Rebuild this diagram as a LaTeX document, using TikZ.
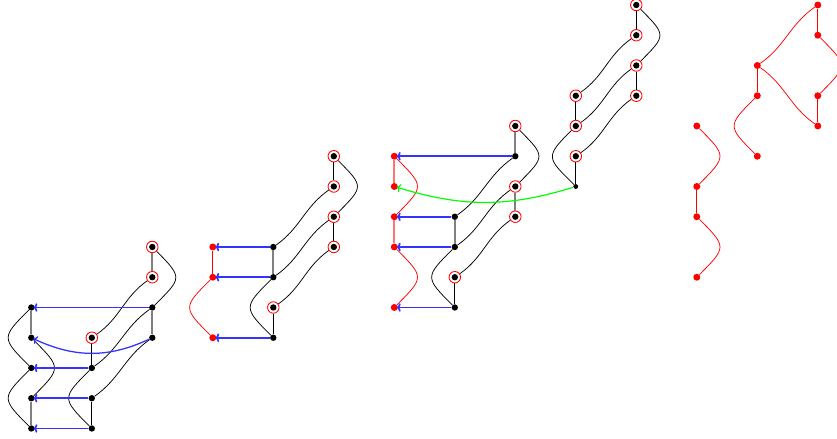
\documentclass[tikz,border=0pt]{standalone}
\usetikzlibrary{arrows.meta}
\tikzset{
	dot/.style={circle, fill=black, inner sep=0pt, minimum size=2.1mm},
	rdot/.style={dot, fill=red, minimum size=2.3mm},
	ring/.style={circle, draw=red, line width=0.8pt, inner sep=0pt, minimum size=3.8mm,
		path picture={\fill[black] (path picture bounding box.center) circle (1.05mm);}},
	strand/.style={line width=0.7pt},
	rstrand/.style={red, line width=0.7pt},
	rung/.style={gray, line width=1.6pt},
	rrung/.style={red!55, line width=1.6pt},
	arr/.style={blue!80!white, line width=1.6pt, shorten >=-1pt, -{To[length=3.5pt,width=8pt]}},
	garr/.style={arr, green},
	bulgel/.style={out=-135, in=135, looseness=1.8},
	bulger/.style={out=-45, in=45, looseness=1.8},
	diagup/.style={out=35, in=215},
	diagdn/.style={out=-35, in=145}
}

\begin{document}
\begin{tikzpicture}
			%%%%% START %%%%%
			\useasboundingbox (-1.035, -0.315) rectangle (26.635, 14.165);
			
			%%%%% first %%%%%
			\node[dot] (a1) at (0, 4) {};
			\node[dot] (a2) at (0, 3) {};
			\node[dot] (a3) at (0, 2) {};
			\node[dot] (a4) at (0, 1) {};
			\node[dot] (a5) at (0, 0) {};
			\node[ring] (b2) at (2, 3) {};
			\node[dot] (b3) at (2, 2) {};
			\node[dot] (b4) at (2, 1) {};
			\node[dot] (b5) at (2, 0) {};
			\node[ring] (c0) at (4, 6) {};
			\node[ring] (c1) at (4, 5) {};
			\node[dot] (c2) at (4, 4) {};
			\node[dot] (c3) at (4, 3) {};
			
			\draw[rung] (a1) -- (a2);
			\draw[rung] (a4) -- (a5);
			\draw[rung] (c0) -- (c1);
			\draw[rung] (c2) -- (c3);
			\draw[strand] (b2) -- (b3);
			\draw[strand] (b4) -- (b5);
			\draw[strand] (a1) to[bulgel] (a3);
			\draw[strand] (a2) to[bulger] (a4);
			\draw[strand] (a3) to[bulgel] (a5);
			\draw[strand] (b3) to[bulgel] (b5);
			\draw[strand] (c0) to[bulger] (c2);
			\draw[strand] (b2) to[diagup] (c1);
			\draw[strand] (b3) to[diagup] (c2);
			\draw[strand] (b4) to[diagup] (c3);
			
			\draw[arr] (c2) -- (a1);
			\draw[arr, line width=1.2pt] (c3) to[bend left=25] (a2);
			\draw[arr] (b3) -- (a3);
			\draw[arr] (b4) -- (a4);
			\draw[arr] (b5) -- (a5);
			
			%%%%% second %%%%%
			\node[rdot] (d1) at (6, 6) {};
			\node[rdot] (d2) at (6, 5) {};
			\node[rdot] (d4) at (6, 3) {};
			\node[dot] (e1) at (8, 6) {};
			\node[dot] (e2) at (8, 5) {};
			\node[ring] (e3) at (8, 4) {};
			\node[dot] (e4) at (8, 3) {};
			\node[ring] (f1) at (10, 9) {};
			\node[ring] (f2) at (10, 8) {};
			\node[ring] (f3) at (10, 7) {};
			\node[ring] (f4) at (10, 6) {};
			
			\draw[rstrand, line width=1.2pt] (d1) -- (d2);
			\draw[rstrand] (d2) to[bulgel] (d4);
			\draw[rung] (e1) -- (e2);
			\draw[strand] (e3) -- (e4);
			\draw[strand] (e2) to[bulgel] (e4);
			\draw[strand] (f1) -- (f2);
			\draw[strand] (f3) -- (f4);
			\draw[strand] (f1) to[bulger] (f3);
			\draw[strand] (e1) to[diagup] (f2);
			\draw[strand] (e2) to[diagup] (f3);
			\draw[strand] (e3) to[diagup] (f4);
			
			\draw[arr] (e1) -- (d1);
			\draw[arr] (e2) -- (d2);
			\draw[arr] (e4) -- (d4);
			
			%%%%% third %%%%%
			\node[rdot] (g1) at (12, 9) {};
			\node[rdot] (g2) at (12, 8) {};
			\node[rdot] (g3) at (12, 7) {};
			\node[rdot] (g4) at (12, 6) {};
			\node[rdot] (g6) at (12, 4) {};
			\node[dot] (h1) at (14, 7) {};
			\node[dot] (h2) at (14, 6) {};
			\node[ring] (h3) at (14, 5) {};
			\node[dot] (h4) at (14, 4) {};
			\node[ring] (i1) at (16, 10) {};
			\node[dot] (i2) at (16, 9) {};
			\node[ring] (i3) at (16, 8) {};
			\node[ring] (i4) at (16, 7) {};
			
			\draw[rrung] (g1) -- (g2);
			\draw[rrung] (g3) -- (g4);
			\draw[rstrand] (g1) to[bulger] (g3);
			\draw[rstrand] (g4) to[bulger] (g6);
			\draw[rung] (h1) -- (h2);
			\draw[strand] (h3) -- (h4);
			\draw[strand] (h2) to[bulgel] (h4);
			\draw[rung] (i1) -- (i2);
			\draw[rung] (i3) -- (i4);
			\draw[strand] (i1) to[bulger] (i3);
			\draw[strand] (h1) to[diagup] (i2);
			\draw[strand] (h2) to[diagup] (i3);
			\draw[strand] (h3) to[diagup] (i4);
			
			\draw[arr] (i2) -- (g1);
			\draw[arr] (h1) -- (g3);
			\draw[arr] (h2) -- (g4);
			\draw[arr] (h4) -- (g6);
			
			%%%%% fourth %%%%%
			\node[ring] (j1) at (18, 11) {};
			\node[ring] (j2) at (18, 10) {};
			\node[ring] (j3) at (18, 9) {};
			\node[dot, minimum size=1.6mm] (j4) at (18, 8) {};
			\node[ring] (k1) at (20, 14) {};
			\node[ring] (k2) at (20, 13) {};
			\node[ring] (k3) at (20, 12) {};
			\node[ring] (k4) at (20, 11) {};
			
			\draw[strand] (j1) -- (j2);
			\draw[strand] (j3) -- (j4);
			\draw[strand] (j2) to[bulgel] (j4);
			\draw[strand] (k1) -- (k2);
			\draw[strand] (k3) -- (k4);
			\draw[strand] (k1) to[bulger] (k3);
			\draw[strand] (j1) to[diagup] (k2);
			\draw[strand] (j2) to[diagup] (k3);
			\draw[strand] (j3) to[diagup] (k4);
			
			\draw[garr, line width=1.1pt] (j4) to[bend left=17] (g2);
			
			%%%%% fifth %%%%%
			\node[rdot] (l1) at (22, 10) {};
			\node[rdot] (l2) at (22, 8) {};
			\node[rdot] (l3) at (22, 7) {};
			\node[rdot] (l4) at (22, 5) {};
			\node[rdot] (m1) at (24, 12) {};
			\node[rdot] (m2) at (24, 11) {};
			\node[rdot] (m3) at (24, 9) {};
			\node[rdot] (n1) at (26, 14) {};
			\node[rdot] (n2) at (26, 13) {};
			\node[rdot] (n3) at (26, 11) {};
			\node[rdot] (n4) at (26, 10) {};
			
			\draw[rstrand] (l1) to[bulger] (l2);
			\draw[rstrand, line width=1pt] (l2) -- (l3);
			\draw[rstrand] (l3) to[bulger] (l4);
			\draw[rstrand, line width=1pt] (m1) -- (m2);
			\draw[rstrand] (m2) to[bulgel] (m3);
			\draw[rstrand] (m1) to[diagup] (n1);
			\draw[rstrand] (m1) to[diagdn] (n4);
			\draw[rstrand, line width=1pt] (n1) -- (n2);
			\draw[rstrand] (n2) to[bulger] (n3);
			\draw[rstrand, line width=1pt] (n3) -- (n4);
			
			%%%%% END %%%%%
\end{tikzpicture}
\end{document}
